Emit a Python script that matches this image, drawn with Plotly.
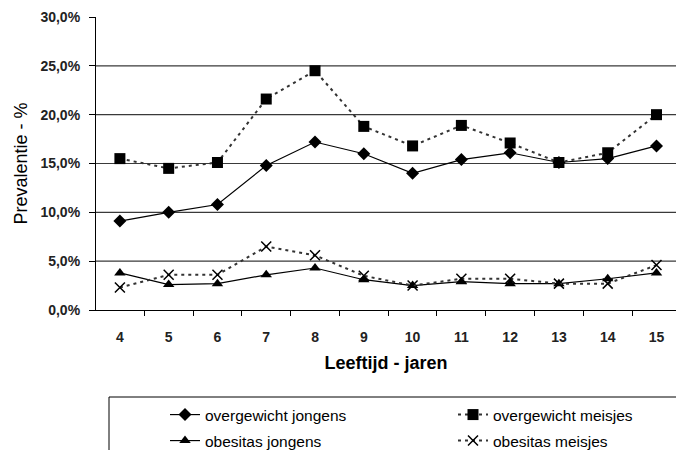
import plotly.graph_objects as go

ages = ["4", "5", "6", "7", "8", "9", "10", "11", "12", "13", "14", "15"]
overgewicht_jongens = [9.1, 10.0, 10.8, 14.8, 17.2, 16.0, 14.0, 15.4, 16.1, 15.1, 15.5, 16.8]
overgewicht_meisjes = [15.5, 14.5, 15.1, 21.6, 24.5, 18.8, 16.8, 18.9, 17.1, 15.1, 16.1, 20.0]
obesitas_jongens = [3.8, 2.6, 2.7, 3.6, 4.3, 3.1, 2.5, 2.9, 2.7, 2.7, 3.2, 3.8]
obesitas_meisjes = [2.3, 3.6, 3.6, 6.5, 5.6, 3.5, 2.5, 3.2, 3.2, 2.7, 2.7, 4.6]
grid_vals = [5, 10, 15, 20, 25]

FONT = "Liberation Sans, Arial, sans-serif"
DOT = "3px,4px"

fig = go.Figure()
fig.add_trace(go.Scatter(
    x=ages, y=overgewicht_jongens, name="overgewicht jongens", mode="lines+markers",
    line=dict(color="black", width=1.2),
    marker=dict(symbol="diamond", size=10, color="black"), legend="legend"))
fig.add_trace(go.Scatter(
    x=ages, y=overgewicht_meisjes, name="overgewicht meisjes", mode="lines+markers",
    line=dict(color="#333333", width=2, dash=DOT),
    marker=dict(symbol="square", size=11, color="black"), legend="legend2"))
fig.add_trace(go.Scatter(
    x=ages, y=obesitas_jongens, name="obesitas jongens", mode="lines+markers",
    line=dict(color="black", width=1.2),
    marker=dict(symbol="triangle-up", size=10, color="black"), legend="legend3"))
fig.add_trace(go.Scatter(
    x=ages, y=obesitas_meisjes, name="obesitas meisjes", mode="lines+markers",
    line=dict(color="#333333", width=2, dash=DOT),
    marker=dict(symbol="x-thin", size=10, color="black",
                line=dict(color="black", width=1.5)), legend="legend4"))

for v in grid_vals:
    fig.add_hline(y=v, line=dict(color="#3a3a3a", width=1.2), layer="below")

# legend border (extends past the cropped chart edge)
fig.add_shape(type="rect", xref="paper", yref="paper",
              x0=(109 - 96) / 580, x1=1.05, y0=1 - (397 - 17) / 293, y1=-0.6,
              line=dict(color="black", width=1), fillcolor="rgba(0,0,0,0)")

leg_common = dict(orientation="h", xref="container", yref="container",
                  xanchor="left", yanchor="top",
                  font=dict(family=FONT, size=15.5, color="black"),
                  bgcolor="rgba(0,0,0,0)", borderwidth=0)

col1, col2 = 165 / 676, 453 / 676
row1, row2 = 1 - 398 / 450, 1 - 424 / 450

fig.update_layout(
    width=676, height=450,
    margin=dict(l=96, r=0, t=17, b=140, autoexpand=False),
    paper_bgcolor="white", plot_bgcolor="white",
    separators=",.",
    showlegend=True,
    legend=dict(x=col1, y=row1, **leg_common),
    legend2=dict(x=col2, y=row1, **leg_common),
    legend3=dict(x=col1, y=row2, **leg_common),
    legend4=dict(x=col2, y=row2, **leg_common),
    xaxis=dict(
        type="category", range=[-0.49, 11.4], tickson="boundaries",
        ticks="outside", ticklen=5, tickcolor="black", tickwidth=1,
        showline=True, linecolor="black", linewidth=1.2, showgrid=False,
        tickfont=dict(family=FONT, size=14, color="#222222", weight="bold"),
        ticklabelstandoff=14,
        title=dict(text="Leeftijd - jaren", standoff=12,
                   font=dict(family=FONT, size=18, color="black", weight="bold")),
    ),
    yaxis=dict(
        range=[0, 30], dtick=5, tick0=0, tickformat=".1f", ticksuffix="%",
        ticks="outside", ticklen=6, tickcolor="black", tickwidth=1,
        showline=True, linecolor="black", linewidth=1.2, showgrid=False, zeroline=False,
        tickfont=dict(family=FONT, size=14, color="#222222", weight="bold"),
        ticklabelstandoff=6,
        title=dict(text="Prevalentie - %", standoff=8,
                   font=dict(family=FONT, size=18, color="black")),
    ),
)

fig.write_html("out.html")
